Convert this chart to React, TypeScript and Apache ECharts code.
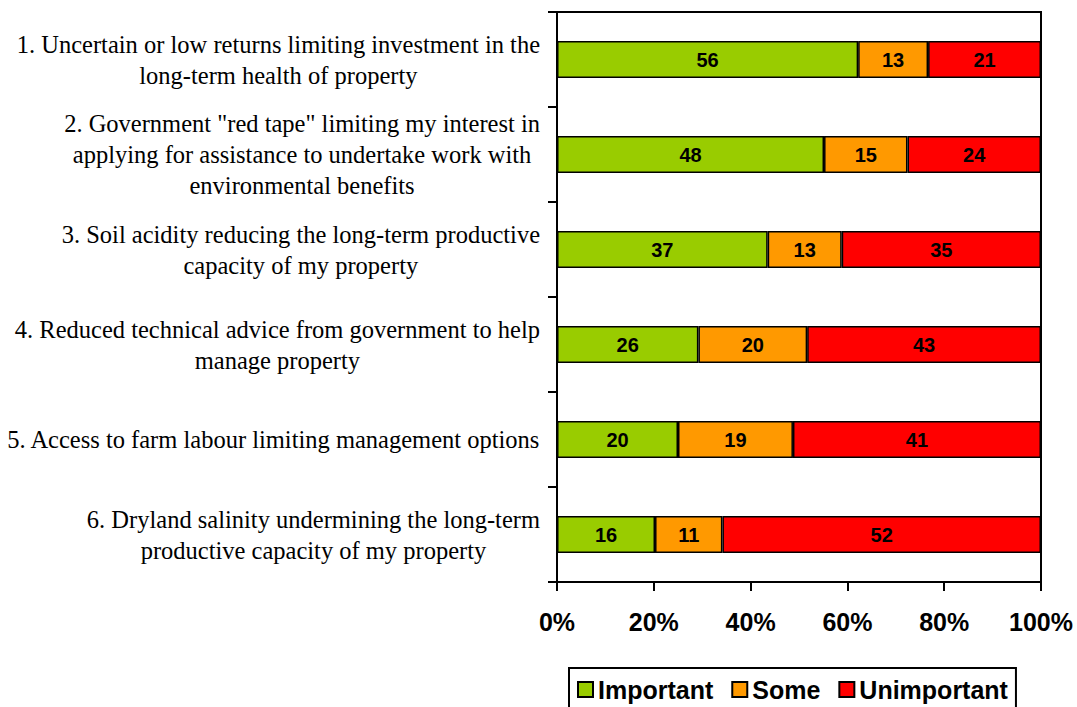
import React, { useEffect, useRef } from "react";
import * as echarts from "echarts";

const categories = [
  "1. Uncertain or low returns limiting investment in the\nlong-term health of property",
  "2. Government \"red tape\" limiting my interest in\napplying for assistance to undertake work with\nenvironmental benefits",
  "3. Soil acidity reducing the long-term productive\ncapacity of my property",
  "4. Reduced technical advice from government to help\nmanage property",
  "5. Access to farm labour limiting management options",
  "6. Dryland salinity undermining the long-term\nproductive capacity of my property",
];
const important = [56, 48, 37, 26, 20, 16];
const some = [13, 15, 13, 20, 19, 11];
const unimportant = [21, 24, 35, 43, 41, 52];
const seriesNames = ["Important", "Some", "Unimportant"];
const seriesColors = ["#99CC00", "#FF9900", "#FF0000"];
const xTicks = [0, 20, 40, 60, 80, 100];

export default function App() {
  const ref = useRef<HTMLDivElement>(null);
  useEffect(() => {
    if (!ref.current) return;
    const chart = echarts.init(ref.current, undefined, { renderer: "svg" });
    const raw = [important, some, unimportant];
    const totals = important.map((v, i) => v + some[i] + unimportant[i]);
    const series = raw.map((arr, si) => ({
      name: seriesNames[si],
      type: "bar",
      stack: "total",
      barWidth: 37,
      data: arr.map((v, i) => (v / totals[i]) * 100),
      itemStyle: { color: seriesColors[si], borderColor: "#000", borderWidth: 1.5 },
      label: {
        show: true,
        position: "inside",
        color: "#000",
        fontFamily: "Liberation Sans",
        fontWeight: "bold",
        fontSize: 20,
        formatter: (p: any) => String(arr[p.dataIndex]),
      },
    }));
    chart.setOption({
      animation: false,
      backgroundColor: "#fff",
      grid: {
        left: 557,
        right: 36,
        top: 12,
        bottom: 125,
        show: true,
        borderColor: "#000",
        borderWidth: 2,
        containLabel: false,
      },
      legend: {
        data: seriesNames,
        left: 569,
        top: 668,
        padding: [9, 8, 20, 8],
        borderColor: "#000",
        borderWidth: 2,
        itemWidth: 15,
        itemHeight: 15,
        itemGap: 18,
        icon: "rect",
        itemStyle: { borderColor: "#000", borderWidth: 2 },
        textStyle: {
          fontFamily: "Liberation Sans",
          fontWeight: "bold",
          fontSize: 25,
          color: "#000",
        },
      },
      xAxis: {
        type: "value",
        min: 0,
        max: 100,
        interval: 20,
        splitLine: { show: false },
        axisLine: { show: true, lineStyle: { color: "#000", width: 2 } },
        axisTick: { show: true, length: 9, lineStyle: { color: "#000", width: 2 } },
        axisLabel: {
          margin: 27,
          color: "#000",
          fontFamily: "Liberation Sans",
          fontWeight: "bold",
          fontSize: 25,
          formatter: (v: number) => (xTicks.includes(v) ? v + "%" : ""),
        },
      },
      yAxis: {
        type: "category",
        inverse: true,
        data: categories,
        axisLine: { show: true, lineStyle: { color: "#000", width: 2 } },
        axisTick: { show: true, length: 9, lineStyle: { color: "#000", width: 2 } },
        axisLabel: {
          interval: 0,
          margin: 17,
          align: "right",
          formatter: (v: string) =>
            v
              .split("\n")
              .map((l) => "{c|" + l + "}")
              .join("\n"),
          rich: {
            c: {
              align: "center",
              fontFamily: "'Times New Roman', 'Liberation Serif', serif",
              fontSize: 24.5,
              lineHeight: 31,
              color: "#000",
            },
          },
        },
      },
      series,
    });
    return () => chart.dispose();
  }, []);
  return <div ref={ref} style={{ width: 1077, height: 707, position: "absolute", left: 0, top: 0 }} />;
}
